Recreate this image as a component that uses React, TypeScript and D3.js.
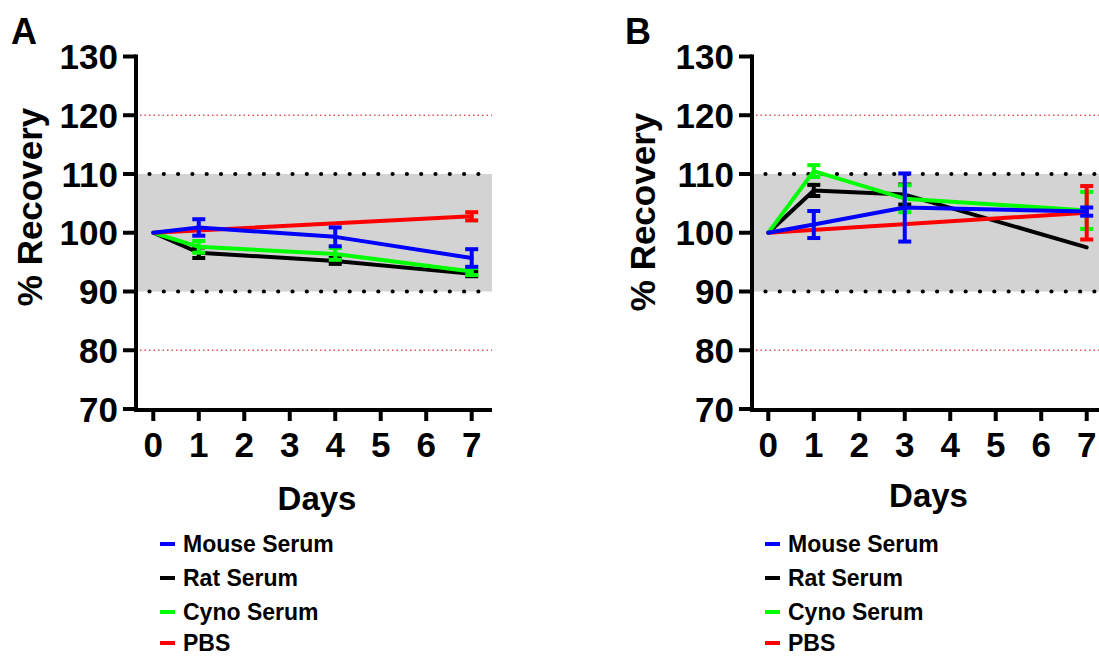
import React from "react";
import * as d3 from "d3";

// ---------- data ----------
const xTicks = [0, 1, 2, 3, 4, 5, 6, 7];
const yTicks = [70, 80, 90, 100, 110, 120, 130];
const seriesNames = ["Mouse Serum", "Rat Serum", "Cyno Serum", "PBS"];
const seriesColors = ["#0000ff", "#000000", "#00ff00", "#ff0000"];
const acceptBand = [90, 110];
const outerLimits = [80, 120];

// Panel A
const daysA = [0, 1, 4, 7];
const pbsDaysA = [0, 7];
const mouseA = [100, 100.9, 99.3, 95.7];
const mouseAErr = [0, 1.4, 1.6, 1.5];
const ratA = [100, 96.6, 95.2, 93.0];
const ratAErr = [0, 0.9, 0.5, 0.4];
const cynoA = [100, 97.6, 96.4, 93.4];
const cynoAErr = [0, 1.0, 1.0, 0.6];
const pbsA = [100, 102.8];
const pbsAErr = [0, 0.7];

// Panel B
const daysB = [0, 1, 3, 7];
const pbsDaysB = [0, 7];
const mouseB = [100, 101.4, 104.3, 103.6];
const mouseBErr = [0, 2.3, 5.8, 0.7];
const ratB = [100, 107.2, 106.5, 97.5];
const ratBErr = [0, 0.95, 1.7, 0];
const cynoB = [100, 110.5, 105.8, 103.8];
const cynoBErr = [0, 1.0, 2.3, 3.15];
const pbsB = [100, 103.4];
const pbsBErr = [0, 4.55];

type Series = { name: string; color: string; days: number[]; vals: number[]; err: number[] };

// draw order: Rat, Cyno, PBS, Mouse (mouse on top)
const panelASeries: Series[] = [
  { name: seriesNames[1], color: seriesColors[1], days: daysA, vals: ratA, err: ratAErr },
  { name: seriesNames[2], color: seriesColors[2], days: daysA, vals: cynoA, err: cynoAErr },
  { name: seriesNames[3], color: seriesColors[3], days: pbsDaysA, vals: pbsA, err: pbsAErr },
  { name: seriesNames[0], color: seriesColors[0], days: daysA, vals: mouseA, err: mouseAErr },
];
const panelBSeries: Series[] = [
  { name: seriesNames[1], color: seriesColors[1], days: daysB, vals: ratB, err: ratBErr },
  { name: seriesNames[2], color: seriesColors[2], days: daysB, vals: cynoB, err: cynoBErr },
  { name: seriesNames[3], color: seriesColors[3], days: pbsDaysB, vals: pbsB, err: pbsBErr },
  { name: seriesNames[0], color: seriesColors[0], days: daysB, vals: mouseB, err: mouseBErr },
];

const FONT = "'Liberation Sans', Arial, Helvetica, sans-serif";
const legendBaselines = [552, 586, 620, 651];

type PanelProps = {
  letter: string;
  letterX: number;
  axisX: number;
  x0: number;
  x7: number;
  xEnd: number;
  yLabelX: number;
  yLabelY: number;
  daysY: number;
  legendX: number;
  series: Series[];
};

function Panel(p: PanelProps) {
  const x = d3.scaleLinear().domain([0, 7]).range([p.x0, p.x7]);
  const y = d3.scaleLinear().domain([70, 130]).range([409, 56.5]);
  const axisY = 410;
  const line = d3
    .line<[number, number]>()
    .x((d) => x(d[0]))
    .y((d) => y(d[1]));
  const capW = 13;
  return (
    <g>
      {/* gray acceptance band */}
      <rect
        x={p.axisX}
        y={y(acceptBand[1])}
        width={p.xEnd - p.axisX}
        height={y(acceptBand[0]) - y(acceptBand[1])}
        fill="#d3d3d3"
      />
      {/* red dotted outer limits */}
      {outerLimits.map((v) => (
        <line
          key={"r" + v}
          x1={p.axisX + 4}
          x2={p.xEnd}
          y1={y(v)}
          y2={y(v)}
          stroke="#e05050"
          strokeWidth={1.3}
          strokeDasharray="1.5,3"
        />
      ))}
      {/* black dotted band limits */}
      {acceptBand.map((v) => (
        <line
          key={"b" + v}
          x1={p.axisX + 13.5}
          x2={p.xEnd}
          y1={y(v)}
          y2={y(v)}
          stroke="#000"
          strokeWidth={4.2}
          strokeLinecap="round"
          strokeDasharray="0,14.3"
        />
      ))}
      {/* series */}
      {p.series.map((s) => {
        const pts = s.days.map((d, i) => [d, s.vals[i]] as [number, number]);
        return (
          <g key={s.name}>
            <path d={line(pts) || ""} fill="none" stroke={s.color} strokeWidth={4} strokeLinejoin="round" strokeLinecap="round" />
            {s.days.map((d, i) =>
              s.err[i] > 0 ? (
                <g key={i} stroke={s.color} strokeWidth={4}>
                  <line x1={x(d)} x2={x(d)} y1={y(s.vals[i] + s.err[i])} y2={y(s.vals[i] - s.err[i])} />
                  <line x1={x(d) - capW / 2} x2={x(d) + capW / 2} y1={y(s.vals[i] + s.err[i])} y2={y(s.vals[i] + s.err[i])} />
                  <line x1={x(d) - capW / 2} x2={x(d) + capW / 2} y1={y(s.vals[i] - s.err[i])} y2={y(s.vals[i] - s.err[i])} />
                </g>
              ) : null
            )}
          </g>
        );
      })}
      {/* axes */}
      <line x1={p.axisX} x2={p.axisX} y1={y(130) - 2} y2={axisY + 2} stroke="#000" strokeWidth={4} />
      <line x1={p.axisX - 2} x2={p.xEnd} y1={axisY} y2={axisY} stroke="#000" strokeWidth={4} />
      {yTicks.map((t) => (
        <g key={"yt" + t}>
          <line x1={p.axisX - 13} x2={p.axisX} y1={y(t)} y2={y(t)} stroke="#000" strokeWidth={4} />
          <text
            x={p.axisX - 18}
            y={y(t)}
            dy="0.36em"
            textAnchor="end"
            fontFamily={FONT}
            fontWeight="bold"
            fontSize={35}
          >
            {t}
          </text>
        </g>
      ))}
      {xTicks.map((t) => (
        <g key={"xt" + t}>
          <line x1={x(t)} x2={x(t)} y1={axisY} y2={axisY + 11} stroke="#000" strokeWidth={4} />
          <text x={x(t)} y={457} textAnchor="middle" fontFamily={FONT} fontWeight="bold" fontSize={35}>
            {t}
          </text>
        </g>
      ))}
      <text
        transform={`translate(${p.yLabelX},${p.yLabelY}) rotate(-90)`}
        textAnchor="middle"
        fontFamily={FONT}
        fontWeight="bold"
        fontSize={35}
      >
        % Recovery
      </text>
      <text x={(p.axisX + p.xEnd) / 2 + 3} y={p.daysY} textAnchor="middle" fontFamily={FONT} fontWeight="bold" fontSize={33}>
        Days
      </text>
      <text x={p.letterX} y={44} fontFamily={FONT} fontWeight="bold" fontSize={36}>
        {p.letter}
      </text>
      {/* legend */}
      {seriesNames.map((n, i) => (
        <g key={"lg" + n}>
          <line
            x1={p.legendX}
            x2={p.legendX + 15}
            y1={legendBaselines[i] - 8}
            y2={legendBaselines[i] - 8}
            stroke={seriesColors[i]}
            strokeWidth={4}
          />
          <text x={p.legendX + 23} y={legendBaselines[i]} fontFamily={FONT} fontWeight="bold" fontSize={23}>
            {n}
          </text>
        </g>
      ))}
    </g>
  );
}

export default function App() {
  return (
    <svg
      width={1099}
      height={657}
      style={{ position: "absolute", left: 0, top: 0, background: "#fff" }}
    >
      <rect width={1099} height={657} fill="#fff" />
      <Panel
        letter="A"
        letterX={11}
        axisX={136}
        x0={153.3}
        x7={471.7}
        xEnd={492}
        yLabelX={42}
        yLabelY={207}
        daysY={510}
        legendX={160}
        series={panelASeries}
      />
      <Panel
        letter="B"
        letterX={625}
        axisX={752}
        x0={768.3}
        x7={1086.7}
        xEnd={1099}
        yLabelX={655}
        yLabelY={212}
        daysY={507}
        legendX={765}
        series={panelBSeries}
      />
    </svg>
  );
}
